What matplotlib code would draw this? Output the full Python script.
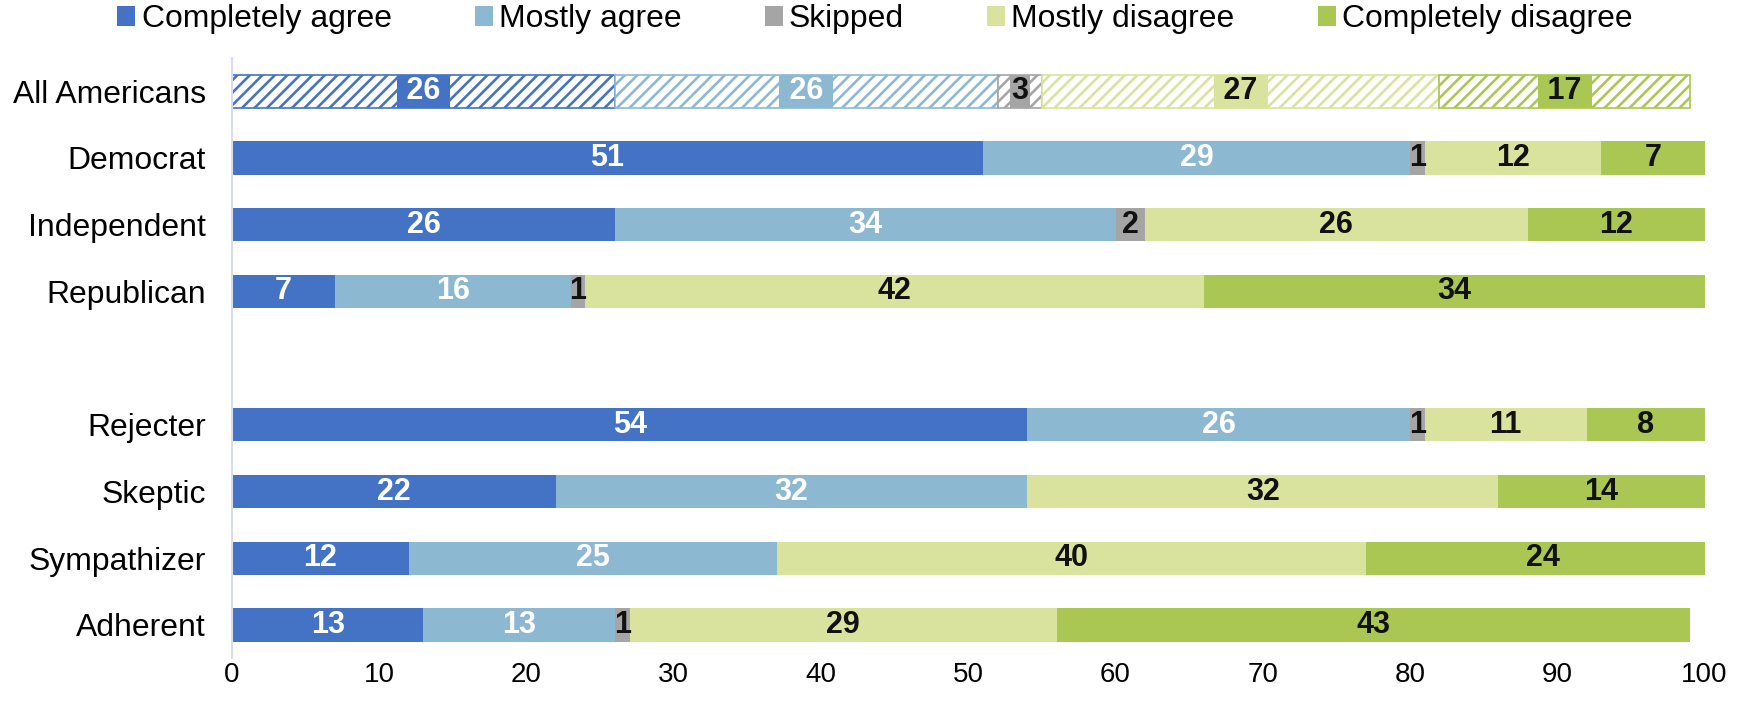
import matplotlib
matplotlib.use("Agg")
import matplotlib.pyplot as plt
from matplotlib.patches import Patch

categories = ["All Americans", "Democrat", "Independent", "Republican",
              "Rejecter", "Skeptic", "Sympathizer", "Adherent"]
series_names = ["Completely agree", "Mostly agree", "Skipped",
                "Mostly disagree", "Completely disagree"]
completely_agree = [26, 51, 26, 7, 54, 22, 12, 13]
mostly_agree = [26, 29, 34, 16, 26, 32, 25, 13]
skipped = [3, 1, 2, 1, 1, 0, 0, 1]
mostly_disagree = [27, 12, 26, 42, 11, 32, 40, 29]
completely_disagree = [17, 7, 12, 34, 8, 14, 24, 43]
x_ticks = [0, 10, 20, 30, 40, 50, 60, 70, 80, 90, 100]

colors = ["#4472C4", "#8DB8D2", "#A5A5A5", "#D9E39E", "#A9C752"]
label_colors = ["white", "white", "#111111", "#111111", "#111111"]

DPI = 75
S = 100 / DPI  # sizes below were tuned in "pixel-points" at 100 dpi

plt.rcParams["font.family"] = ["Liberation Sans", "DejaVu Sans"]
plt.rcParams["hatch.linewidth"] = 2.5

fig = plt.figure(figsize=(1750 / DPI, 714 / DPI), dpi=DPI)
ax = fig.add_axes([0.1326, 0.078, 0.974 - 0.1326, 0.841])

# positions: a blank slot between the party rows and the others
ypos = [i if i < 4 else i + 1 for i in range(len(categories))]

all_series = [completely_agree, mostly_agree, skipped, mostly_disagree, completely_disagree]
lefts = [0.0] * len(categories)
bar_h = 0.5
for s, vals in enumerate(all_series):
    for i, v in enumerate(vals):
        y = ypos[i]
        if i == 0:
            ax.barh(y, v, left=lefts[i], height=bar_h, facecolor="white",
                    edgecolor=colors[s], hatch="//", linewidth=1.2 * S)
        else:
            ax.barh(y, v, left=lefts[i], height=bar_h, color=colors[s], linewidth=0)
        if v > 0:
            txt = str(v)
            kw = {}
            if i == 0:
                txt = f" {v} " if v >= 10 else str(v)
                kw["bbox"] = dict(boxstyle="square,pad=0.05", fc=colors[s], ec="none")
            ax.text(lefts[i] + v / 2, y, txt, ha="center", va="center",
                    fontsize=22 * S, fontweight="bold", color=label_colors[s], **kw)
        lefts[i] += v

ax.set_xlim(0, 100)
ax.set_ylim(8.5, -0.5)
ax.set_xticks(x_ticks)
ax.set_xticklabels([str(t) for t in x_ticks], fontsize=20 * S)
ax.set_yticks(ypos)
ax.set_yticklabels(categories, fontsize=23 * S)
ax.tick_params(axis="both", length=0)
ax.tick_params(axis="y", pad=19 * S)
ax.tick_params(axis="x", pad=3 * S)
for sp in ["top", "right", "bottom"]:
    ax.spines[sp].set_visible(False)
ax.spines["left"].set_color("#D6DFEE")
ax.spines["left"].set_linewidth(1.5 * S)

handles = [Patch(facecolor=c, edgecolor="none") for c in colors]
fig.legend(handles, series_names, loc="upper center", bbox_to_anchor=(0.5, 1.012),
           ncol=5, frameon=False, fontsize=23 * S, handlelength=0.56, handleheight=0.56,
           handletextpad=0.2, columnspacing=2.6, borderaxespad=0.0)

fig.savefig("out.png", dpi=DPI)
